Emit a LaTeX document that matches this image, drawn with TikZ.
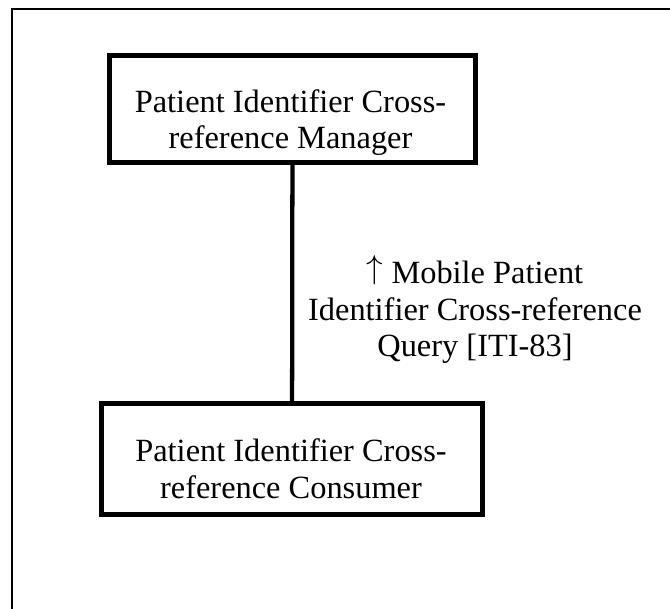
\documentclass[tikz,border=0pt]{standalone}
\usepackage{fontspec}
\setmainfont{Liberation Serif}
\begin{document}
\begin{tikzpicture}[x=0.75pt, y=-0.75pt]
                % Schrift
                \def\fs{\fontsize{24.3pt}{27.45pt}\selectfont}

                \tikzset{
                    akteur/.style={draw, line width=3.75pt, inner sep=0pt},
                    akteurtext/.style={inner sep=0pt, align=center, font=\fs},
                    verbindung/.style={line width=3.2pt},
                }

                \useasboundingbox (0,0) rectangle (670,609);

                % Rahmen
                \draw[line width=1.5pt] (670,9) -- (12,9) -- (12,609);

                % Akteure
                \node[akteur, minimum width=274.5pt, minimum height=80.25pt] (pixm) at (292.5,109) {};
                \node[akteurtext] (pixmtext) at (290.5,122.6) {Patient Identifier Cross-\\reference Manager};

                \node[akteur, minimum width=285.75pt, minimum height=83.25pt] (pixc) at (292,459) {};
                \node[akteurtext] (pixctext) at (291,468.6) {Patient Identifier Cross-\\reference Consumer};

                % Transaktion
                \draw[verbindung] (pixm) -- (pixc);
                \node[akteurtext] (iti83) at (475,309.5) {\raisebox{0.17em}{$\uparrow$} Mobile Patient\\Identifier Cross-reference\\Query [ITI-83]};
            \end{tikzpicture}
\end{document}
